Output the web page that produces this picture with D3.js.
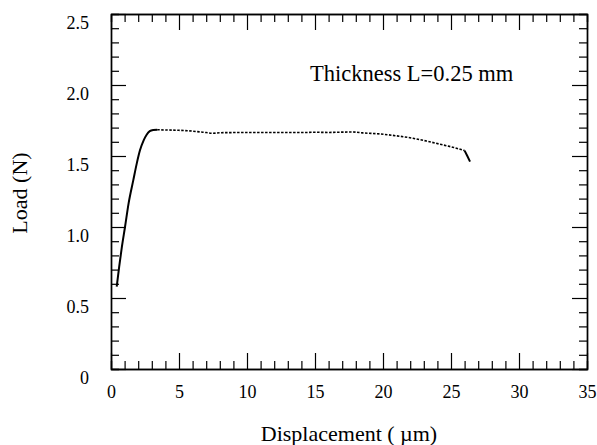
<!DOCTYPE html>
<html>
<head>
<meta charset="utf-8">
<script src="https://cdn.jsdelivr.net/npm/d3@7"></script>
<style>
  body { margin: 0; background: #fff; }
</style>
</head>
<body>
<div id="chart"></div>
<script>
// Data: displacement (um) vs load (N)
const rampX = [0.42, 0.6, 0.8, 1.03, 1.3, 1.64, 1.9, 2.13, 2.4, 2.62, 2.85, 3.1, 3.4];
const rampY = [0.58, 0.72, 0.86, 1.0, 1.17, 1.33, 1.45, 1.54, 1.61, 1.65, 1.675, 1.683, 1.685];
const plateauX = [3.4, 4.1, 5.0, 6.0, 6.5, 7.0, 7.5, 8.0, 9.0, 10.0, 11.0, 12.4, 13.9, 15.0, 16.0, 17.0, 17.8, 18.5, 19.8, 21.0, 22.2, 23.2, 24.2, 25.2, 26.0];
const plateauY = [1.685, 1.683, 1.681, 1.675, 1.670, 1.665, 1.660, 1.664, 1.665, 1.666, 1.665, 1.665, 1.665, 1.667, 1.666, 1.668, 1.669, 1.663, 1.655, 1.642, 1.625, 1.605, 1.583, 1.560, 1.538];
const dropX = [26.0, 26.2, 26.4];
const dropY = [1.538, 1.50, 1.46];
const xTicks = [0, 5, 10, 15, 20, 25, 30, 35];
const yTicks = [0, 0.5, 1.0, 1.5, 2.0, 2.5];
const yTickLabels = ["0", "0.5", "1.0", "1.5", "2.0", "2.5"];
const annotation = "Thickness L=0.25 mm";

const FONT = "'Liberation Serif', 'DejaVu Serif', serif";

const W = 597, H = 445;
const margin = {top: 14, right: 10, bottom: 76, left: 111};
const width = W - margin.left - margin.right,
      height = H - margin.top - margin.bottom;

const svg = d3.select("#chart").append("svg")
    .attr("width", W).attr("height", H)
  .append("g")
    .attr("transform", `translate(${margin.left},${margin.top})`);

const x = d3.scaleLinear().domain([0, 35]).range([0, width]);
const y = d3.scaleLinear().domain([0, 2.5]).range([height, 0]);

const minorX = d3.range(0, 36, 1).filter(v => v % 5 !== 0);
const minorY = d3.range(0, 26, 1).map(v => v / 10).filter((v, i) => i % 5 !== 0);

function styleAxis(g) {
  g.attr("font-family", null).attr("font-size", null);
  g.selectAll(".domain").attr("stroke", "#000").attr("stroke-width", 1.4);
  g.selectAll(".tick line").attr("stroke", "#000").attr("stroke-width", 1.2);
  g.selectAll("text")
    .style("font-family", FONT)
    .style("font-size", "18px")
    .attr("fill", "#000");
}

// bottom axis
svg.append("g").attr("transform", `translate(0,${height})`)
  .call(d3.axisBottom(x).tickValues(minorX).tickSize(-8).tickFormat(""))
  .call(styleAxis);
svg.append("g").attr("transform", `translate(0,${height})`)
  .call(d3.axisBottom(x).tickValues(xTicks).tickSize(-16).tickSizeOuter(0).tickPadding(16).tickFormat(d3.format("d")))
  .call(styleAxis)
  .selectAll("text").attr("dy", "0.71em");

// top axis
svg.append("g")
  .call(d3.axisTop(x).tickValues(minorX).tickSize(-8).tickFormat(""))
  .call(styleAxis);
svg.append("g")
  .call(d3.axisTop(x).tickValues(xTicks).tickSize(-16).tickSizeOuter(0).tickFormat(""))
  .call(styleAxis);

// left axis
svg.append("g")
  .call(d3.axisLeft(y).tickValues(minorY).tickSize(-8).tickFormat(""))
  .call(styleAxis);
svg.append("g")
  .call(d3.axisLeft(y).tickValues(yTicks).tickSize(-15).tickSizeOuter(0).tickPadding(22)
    .tickFormat((d, i) => yTickLabels[i]))
  .call(styleAxis)
  .selectAll("text").attr("dy", "0.82em");

// right axis
svg.append("g").attr("transform", `translate(${width},0)`)
  .call(d3.axisRight(y).tickValues(minorY).tickSize(-8).tickFormat(""))
  .call(styleAxis);
svg.append("g").attr("transform", `translate(${width},0)`)
  .call(d3.axisRight(y).tickValues(yTicks).tickSize(-15).tickSizeOuter(0).tickFormat(""))
  .call(styleAxis);

// curve
const line = d3.line().x(d => x(d[0])).y(d => y(d[1])).curve(d3.curveMonotoneX);

svg.append("path")
  .datum(d3.zip(rampX, rampY))
  .attr("fill", "none").attr("stroke", "#000").attr("stroke-width", 2)
  .attr("d", line);

svg.append("path")
  .datum(d3.zip(plateauX, plateauY))
  .attr("fill", "none").attr("stroke", "#000").attr("stroke-width", 1.6)
  .attr("stroke-dasharray", "2.5,1.5")
  .attr("d", line);

svg.append("path")
  .datum(d3.zip(dropX, dropY))
  .attr("fill", "none").attr("stroke", "#000").attr("stroke-width", 2)
  .attr("d", d3.line().x(d => x(d[0])).y(d => y(d[1])));

// annotation
svg.append("text")
  .attr("x", 199).attr("y", 67)
  .style("font-family", FONT)
  .style("font-size", "22.5px")
  .text(annotation);

// axis titles
svg.append("text")
  .attr("x", width / 2 + 0).attr("y", height + 72)
  .attr("text-anchor", "middle")
  .style("font-family", FONT)
  .style("font-size", "22px")
  .text("Displacement ( \u00b5m)");

svg.append("text")
  .attr("transform", `translate(${-84},${height / 2 + 1.5}) rotate(-90)`)
  .attr("text-anchor", "middle")
  .style("font-family", FONT)
  .style("font-size", "22px")
  .text("Load (N)");
</script>
</body>
</html>
